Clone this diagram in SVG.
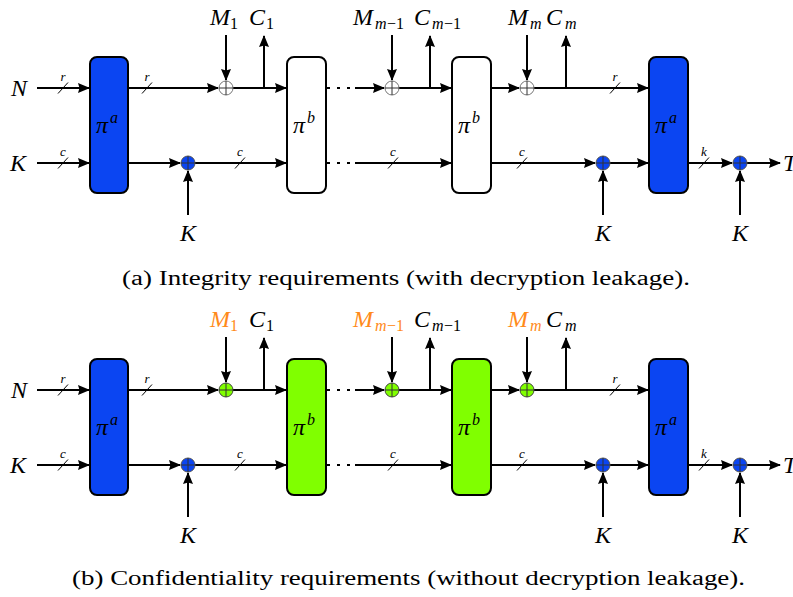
<svg xmlns="http://www.w3.org/2000/svg" width="793" height="597" viewBox="0 0 793 597">
<style>
.ln{stroke:#000;stroke-width:2;fill:none}
.ar{stroke:#000;stroke-width:2;fill:none;marker-end:url(#ah)}
.dot{stroke:#000;stroke-width:2;fill:none;stroke-dasharray:3 7}
.sl{stroke:#000;stroke-width:1;fill:none}
.boxA{fill:#0B45F2;stroke:#000;stroke-width:2}
.boxW{fill:#fff;stroke:#000;stroke-width:2}
.boxG{fill:#80FF00;stroke:#000;stroke-width:2}
.xw{fill:#fff;stroke:#777;stroke-width:1}
.xb{fill:#0B45F2;stroke:#555;stroke-width:1}
.xg{fill:#80FF00;stroke:#444;stroke-width:1}
.xp{stroke:#333;stroke-width:1;fill:none}
text{font-family:'Liberation Serif','Times New Roman',Times,serif}
.m{font-style:italic;font-size:24px;fill:#000}
.sub{font-size:16px;fill:#000}
.subi{font-style:italic;font-size:16px;fill:#000}
.sm{font-style:italic;font-size:13px;fill:#000}
.pi{font-style:italic;font-size:24px;fill:#000}
.cap{font-size:20px;fill:#000}
.or{fill:#FF8A1A}
</style>
<defs>
<marker id="ah" markerWidth="12" markerHeight="10" refX="11" refY="5" orient="auto" markerUnits="userSpaceOnUse">
<path d="M0,0 L12,5 L0,10 L1.5,5 z" fill="#000"/>
</marker>
<g id="xorPlus"><path class="xp" d="M-7,0 H7 M0,-7 V7"/></g>
<g id="slash"><path class="sl" d="M-5,5.5 L5,-5.5"/></g>
</defs>

<!-- ============ Diagram (a) ============ -->
<g id="diagA">
<g id="a-connectors">
<path class="ar" d="M37,88 H89"/>
<path class="ar" d="M37,163 H89"/>
<path class="ar" d="M128,88 H218"/>
<path class="ar" d="M128,163 H180"/>
<path class="ar" d="M195,163 H286"/>
<path class="ar" d="M188,215 V171"/>
<path class="ar" d="M233,88 H286"/>
<path class="ar" d="M264,88 V36"/>
<path class="ar" d="M226,35 V80"/>
<path class="dot" d="M327,88 H352"/>
<path class="ar" d="M355,88 H384"/>
<path class="ar" d="M399,88 H451"/>
<path class="ar" d="M430,88 V36"/>
<path class="ar" d="M392,35 V80"/>
<path class="ar" d="M491,88 H519"/>
<path class="ar" d="M534,88 H648"/>
<path class="ar" d="M566,88 V36"/>
<path class="ar" d="M527,35 V80"/>
<path class="dot" d="M327,163 H352"/>
<path class="ar" d="M355,163 H451"/>
<path class="ar" d="M491,163 H595"/>
<path class="ar" d="M610,163 H648"/>
<path class="ar" d="M603,215 V171"/>
<path class="ar" d="M688,163 H732"/>
<path class="ar" d="M747,163 H780"/>
<path class="ar" d="M740,215 V171"/>
<use href="#slash" x="63" y="88"/><text class="sm" x="63" y="81" text-anchor="middle">r</text>
<use href="#slash" x="147" y="88"/><text class="sm" x="147" y="81" text-anchor="middle">r</text>
<use href="#slash" x="63" y="163"/><text class="sm" x="63" y="156" text-anchor="middle">c</text>
<use href="#slash" x="240" y="163"/><text class="sm" x="240" y="156" text-anchor="middle">c</text>
<use href="#slash" x="393" y="163"/><text class="sm" x="393" y="156" text-anchor="middle">c</text>
<use href="#slash" x="522" y="163"/><text class="sm" x="522" y="156" text-anchor="middle">c</text>
<use href="#slash" x="615" y="88"/><text class="sm" x="615" y="81" text-anchor="middle">r</text>
<use href="#slash" x="704" y="163"/><text class="sm" x="704" y="156" text-anchor="middle">k</text>
</g>
<g id="a-piA1"><rect class="boxA" x="90" y="57" width="38" height="136" rx="7"/><text class="pi" x="96" y="133">π</text><text class="subi" x="110" y="123">a</text></g>
<g id="a-piB1"><rect class="boxW" x="287" y="57" width="39" height="136" rx="7"/><text class="pi" x="293" y="133">π</text><text class="subi" x="307" y="123">b</text></g>
<g id="a-piB2"><rect class="boxW" x="452" y="57" width="39" height="136" rx="7"/><text class="pi" x="458" y="133">π</text><text class="subi" x="472" y="123">b</text></g>
<g id="a-piA2"><rect class="boxA" x="649" y="57" width="39" height="136" rx="7"/><text class="pi" x="655" y="133">π</text><text class="subi" x="669" y="123">a</text></g>
<g id="a-x1"><circle class="xw" cx="226" cy="88" r="7"/><use href="#xorPlus" x="226" y="88"/></g>
<g id="a-x2"><circle class="xw" cx="392" cy="88" r="7"/><use href="#xorPlus" x="392" y="88"/></g>
<g id="a-x3"><circle class="xw" cx="527" cy="88" r="7"/><use href="#xorPlus" x="527" y="88"/></g>
<g id="a-k1"><circle class="xb" cx="188" cy="163" r="7"/><use href="#xorPlus" x="188" y="163"/></g>
<g id="a-k2"><circle class="xb" cx="603" cy="163" r="7"/><use href="#xorPlus" x="603" y="163"/></g>
<g id="a-k3"><circle class="xb" cx="740" cy="163" r="7"/><use href="#xorPlus" x="740" y="163"/></g>
<g id="a-labels">
<text class="m" x="11" y="96">N</text>
<text class="m" x="10" y="171">K</text>
<text class="m" x="783" y="171">T</text>
<text class="m" x="188" y="241" text-anchor="middle">K</text>
<text class="m" x="603" y="241" text-anchor="middle">K</text>
<text class="m" x="740" y="241" text-anchor="middle">K</text>
<text class="m" x="210" y="25">M</text><text class="sub" x="230" y="29">1</text>
<text class="m" x="249" y="25">C</text><text class="sub" x="266" y="29">1</text>
<text class="m" x="353" y="25">M</text><text class="subi" x="375" y="29">m</text><text class="sub" x="387" y="29">−1</text>
<text class="m" x="414" y="25">C</text><text class="subi" x="432" y="29">m</text><text class="sub" x="444" y="29">−1</text>
<text class="m" x="508" y="25">M</text><text class="subi" x="530" y="29">m</text>
<text class="m" x="546" y="25">C</text><text class="subi" x="565" y="29">m</text>
</g>
<text class="cap" x="122" y="285" textLength="568" lengthAdjust="spacingAndGlyphs">(a) Integrity requirements (with decryption leakage).</text>
</g>

<!-- ============ Diagram (b) ============ -->
<g id="diagB" transform="translate(0,302)">
<g id="b-connectors">
<path class="ar" d="M37,88 H89"/>
<path class="ar" d="M37,163 H89"/>
<path class="ar" d="M128,88 H218"/>
<path class="ar" d="M128,163 H180"/>
<path class="ar" d="M195,163 H286"/>
<path class="ar" d="M188,215 V171"/>
<path class="ar" d="M233,88 H286"/>
<path class="ar" d="M264,88 V36"/>
<path class="ar" d="M226,35 V80"/>
<path class="dot" d="M327,88 H352"/>
<path class="ar" d="M355,88 H384"/>
<path class="ar" d="M399,88 H451"/>
<path class="ar" d="M430,88 V36"/>
<path class="ar" d="M392,35 V80"/>
<path class="ar" d="M491,88 H519"/>
<path class="ar" d="M534,88 H648"/>
<path class="ar" d="M566,88 V36"/>
<path class="ar" d="M527,35 V80"/>
<path class="dot" d="M327,163 H352"/>
<path class="ar" d="M355,163 H451"/>
<path class="ar" d="M491,163 H595"/>
<path class="ar" d="M610,163 H648"/>
<path class="ar" d="M603,215 V171"/>
<path class="ar" d="M688,163 H732"/>
<path class="ar" d="M747,163 H780"/>
<path class="ar" d="M740,215 V171"/>
<use href="#slash" x="63" y="88"/><text class="sm" x="63" y="81" text-anchor="middle">r</text>
<use href="#slash" x="147" y="88"/><text class="sm" x="147" y="81" text-anchor="middle">r</text>
<use href="#slash" x="63" y="163"/><text class="sm" x="63" y="156" text-anchor="middle">c</text>
<use href="#slash" x="240" y="163"/><text class="sm" x="240" y="156" text-anchor="middle">c</text>
<use href="#slash" x="393" y="163"/><text class="sm" x="393" y="156" text-anchor="middle">c</text>
<use href="#slash" x="522" y="163"/><text class="sm" x="522" y="156" text-anchor="middle">c</text>
<use href="#slash" x="615" y="88"/><text class="sm" x="615" y="81" text-anchor="middle">r</text>
<use href="#slash" x="704" y="163"/><text class="sm" x="704" y="156" text-anchor="middle">k</text>
</g>
<g id="b-piA1"><rect class="boxA" x="90" y="57" width="38" height="136" rx="7"/><text class="pi" x="96" y="133">π</text><text class="subi" x="110" y="123">a</text></g>
<g id="b-piB1"><rect class="boxG" x="287" y="57" width="39" height="136" rx="7"/><text class="pi" x="293" y="133">π</text><text class="subi" x="307" y="123">b</text></g>
<g id="b-piB2"><rect class="boxG" x="452" y="57" width="39" height="136" rx="7"/><text class="pi" x="458" y="133">π</text><text class="subi" x="472" y="123">b</text></g>
<g id="b-piA2"><rect class="boxA" x="649" y="57" width="39" height="136" rx="7"/><text class="pi" x="655" y="133">π</text><text class="subi" x="669" y="123">a</text></g>
<g id="b-x1"><circle class="xg" cx="226" cy="88" r="7"/><use href="#xorPlus" x="226" y="88"/></g>
<g id="b-x2"><circle class="xg" cx="392" cy="88" r="7"/><use href="#xorPlus" x="392" y="88"/></g>
<g id="b-x3"><circle class="xg" cx="527" cy="88" r="7"/><use href="#xorPlus" x="527" y="88"/></g>
<g id="b-k1"><circle class="xb" cx="188" cy="163" r="7"/><use href="#xorPlus" x="188" y="163"/></g>
<g id="b-k2"><circle class="xb" cx="603" cy="163" r="7"/><use href="#xorPlus" x="603" y="163"/></g>
<g id="b-k3"><circle class="xb" cx="740" cy="163" r="7"/><use href="#xorPlus" x="740" y="163"/></g>
<g id="b-labels">
<text class="m" x="11" y="96">N</text>
<text class="m" x="10" y="171">K</text>
<text class="m" x="783" y="171">T</text>
<text class="m" x="188" y="241" text-anchor="middle">K</text>
<text class="m" x="603" y="241" text-anchor="middle">K</text>
<text class="m" x="740" y="241" text-anchor="middle">K</text>
<text class="m or" x="210" y="25">M</text><text class="sub or" x="230" y="29">1</text>
<text class="m" x="249" y="25">C</text><text class="sub" x="266" y="29">1</text>
<text class="m or" x="353" y="25">M</text><text class="subi or" x="375" y="29">m</text><text class="sub or" x="387" y="29">−1</text>
<text class="m" x="414" y="25">C</text><text class="subi" x="432" y="29">m</text><text class="sub" x="444" y="29">−1</text>
<text class="m or" x="508" y="25">M</text><text class="subi or" x="530" y="29">m</text>
<text class="m" x="546" y="25">C</text><text class="subi" x="565" y="29">m</text>
</g>
<text class="cap" x="72" y="283" textLength="673" lengthAdjust="spacingAndGlyphs">(b) Confidentiality requirements (without decryption leakage).</text>
</g>
</svg>
